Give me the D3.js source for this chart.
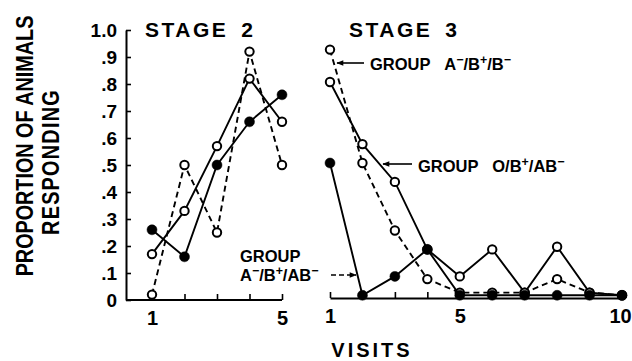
<!DOCTYPE html>
<html><head><meta charset="utf-8">
<script src="https://cdn.jsdelivr.net/npm/d3@7/dist/d3.min.js"></script>
<style>
html,body{margin:0;padding:0;background:#fff;}
svg{display:block;font-family:"Liberation Sans",Arial,Helvetica,sans-serif;}
</style></head><body>
<svg id="chart" width="632" height="361"></svg>
<script>
// ---- data ----
const stage2Visits = [1, 2, 3, 4, 5];
const stage3Visits = [1, 2, 3, 4, 5, 6, 7, 8, 9, 10];
// Group A-/B+/AB- (filled circles, solid line)
const stage2Filled = [0.26, 0.16, 0.50, 0.66, 0.76];
const stage3Filled = [0.50, 0.01, 0.08, 0.18, 0.01, 0.01, 0.01, 0.01, 0.01, 0.01];
// Group O/B+/AB- (open circles, solid line)
const stage2OpenSolid = [0.17, 0.33, 0.57, 0.82, 0.66];
const stage3OpenSolid = [0.80, 0.57, 0.43, 0.18, 0.08, 0.18, 0.02, 0.19, 0.02, 0.01];
// Group A-/B+/B- (open circles, dashed line)
const stage2OpenDashed = [0.02, 0.50, 0.25, 0.92, 0.50];
const stage3OpenDashed = [0.92, 0.50, 0.25, 0.07, 0.02, 0.02, 0.02, 0.07, 0.02, 0.01];
const yTickValues = [0, 0.1, 0.2, 0.3, 0.4, 0.5, 0.6, 0.7, 0.8, 0.9, 1.0];
const yTickLabels = ["0", ".1", ".2", ".3", ".4", ".5", ".6", ".7", ".8", ".9", "1.0"];
const stage2XLabels = [1, 5];
const stage3XLabels = [1, 5, 10];

const svg = d3.select("#chart");
const FONT = '"Liberation Sans",Arial,Helvetica,sans-serif';

const xL = d3.scaleLinear().domain([1, 5]).range([152, 282]);
const yL = d3.scaleLinear().domain([0, 1]).range([300, 30]);
const xR = d3.scaleLinear().domain([1, 10]).range([330, 622]);
const yR = d3.scaleLinear().domain([0, 1]).range([298, 28]);

// defs: arrowhead
svg.append("defs").append("marker")
  .attr("id", "arr").attr("viewBox", "0 0 10 10").attr("refX", 9).attr("refY", 5)
  .attr("markerWidth", 9).attr("markerHeight", 7).attr("markerUnits", "userSpaceOnUse")
  .attr("orient", "auto")
  .append("path").attr("d", "M0,1L10,5L0,9Z").attr("fill", "#000");

// ---- left axes ----
const yAxis = d3.axisLeft(yL).tickValues(yTickValues)
  .tickFormat((d, i) => yTickLabels[i]).tickSizeInner(-5).tickSizeOuter(0).tickPadding(9);
const gy = svg.append("g").attr("transform", "translate(126,0)").call(yAxis);
gy.select(".domain").attr("stroke-width", 2);
gy.selectAll(".tick line").attr("stroke-width", 1.6);
gy.selectAll("text").attr("font-size", 19).attr("font-weight", "bold").attr("font-family", FONT).attr("fill", "#000");

const xAxisL = d3.axisBottom(xL).tickValues(stage2Visits)
  .tickFormat(d => stage2XLabels.includes(d) ? d : "").tickSizeInner(-6).tickSizeOuter(0).tickPadding(11);
const gxl = svg.append("g").attr("transform", `translate(0,${yL(0)})`).call(xAxisL);
gxl.select(".domain").attr("d", `M126,0H${xL(5)}`).attr("stroke-width", 2);
gxl.selectAll(".tick line").attr("stroke-width", 1.6);
gxl.selectAll("text").attr("font-size", 20).attr("font-weight", "bold").attr("font-family", FONT).attr("fill", "#000");

const xAxisR = d3.axisBottom(xR).tickValues(stage3Visits)
  .tickFormat(d => stage3XLabels.includes(d) ? d : "").tickSizeInner(-6).tickSizeOuter(0).tickPadding(11);
const gxr = svg.append("g").attr("transform", `translate(0,${yR(0)})`).call(xAxisR);
gxr.select(".domain").attr("stroke-width", 2);
gxr.selectAll(".tick line").attr("stroke-width", 1.6);
gxr.selectAll("text").attr("font-size", 20).attr("font-weight", "bold").attr("font-family", FONT).attr("fill", "#000")
  .attr("dx", d => d === 10 ? -2 : 0);

// ---- series ----
function drawSeries(xs, vals, x, y, dashed, filled) {
  const pts = xs.map((v, i) => [v, vals[i]]);
  const line = d3.line().x(d => x(d[0])).y(d => y(d[1]));
  svg.append("path").attr("d", line(pts)).attr("fill", "none").attr("stroke", "#000")
    .attr("stroke-width", 1.9).attr("stroke-dasharray", dashed ? "6,4" : null);
  svg.append("g").selectAll("circle").data(pts).join("circle")
    .attr("cx", d => x(d[0])).attr("cy", d => y(d[1]))
    .attr("r", filled ? 5 : 4.2)
    .attr("fill", filled ? "#000" : "#fff").attr("stroke", "#000").attr("stroke-width", filled ? 0.5 : 2);
}
drawSeries(stage2Visits, stage2OpenDashed, xL, yL, true, false);
drawSeries(stage2Visits, stage2OpenSolid, xL, yL, false, false);
drawSeries(stage2Visits, stage2Filled, xL, yL, false, true);
drawSeries(stage3Visits, stage3OpenDashed, xR, yR, true, false);
drawSeries(stage3Visits, stage3OpenSolid, xR, yR, false, false);
drawSeries(stage3Visits, stage3Filled, xR, yR, false, true);

// ---- titles ----
function stageTitle(x, label, num) {
  const t = svg.append("text").attr("x", x).attr("y", 37).attr("font-size", 21)
    .attr("font-weight", "bold").attr("letter-spacing", 2.5).attr("font-family", FONT);
  t.append("tspan").text(label);
  t.append("tspan").attr("dx", 13).text(num);
}
stageTitle(145, "STAGE", "2");
stageTitle(349, "STAGE", "3");

// y-axis title (condensed bold)
svg.append("text").attr("transform", "translate(33,146) rotate(-90) scale(0.86,1)").attr("text-anchor", "middle")
  .attr("font-size", 23).attr("font-weight", "bold").attr("font-family", FONT).text("PROPORTION OF ANIMALS");
svg.append("text").attr("transform", "translate(59,162) rotate(-90) scale(0.86,1)").attr("text-anchor", "middle")
  .attr("font-size", 23).attr("font-weight", "bold").attr("font-family", FONT).attr("letter-spacing", 1.5).text("RESPONDING");

// x title
svg.append("text").attr("x", 372).attr("y", 357).attr("text-anchor", "middle")
  .attr("font-size", 20).attr("font-weight", "bold").attr("letter-spacing", 3).attr("font-family", FONT).text("VISITS");

// ---- group labels ----
// parts: [text, isSuperscript]
function groupLabel(x, y, parts, size) {
  const t = svg.append("text").attr("x", x).attr("y", y).attr("font-size", size)
    .attr("font-family", FONT).attr("font-weight", "bold");
  let raised = false;
  parts.forEach(([s, sup]) => {
    const sp = t.append("tspan").text(s);
    if (sup) { sp.attr("font-size", size * 0.75); if (!raised) { sp.attr("dy", -6); raised = true; } }
    else if (raised) { sp.attr("dy", 6); raised = false; }
  });
  return t;
}
const MINUS = "\u2212";
// Group A-/B+/B- (stage 3 top)
groupLabel(370, 70, [["GROUP", false], ["\u00a0\u00a0\u00a0A", false], [MINUS, true], ["/B", false], ["+", true], ["/B", false], [MINUS, true]], 16.5);
svg.append("line").attr("x1", 364).attr("y1", 63).attr("x2", 337).attr("y2", 63)
  .attr("stroke", "#000").attr("stroke-width", 1.6).attr("marker-end", "url(#arr)");
// Group O/B+/AB-
groupLabel(418, 172, [["GROUP", false], ["\u00a0\u00a0\u00a0O/B", false], ["+", true], ["/AB", false], [MINUS, true]], 16.5);
svg.append("line").attr("x1", 412).attr("y1", 164).attr("x2", 383).attr("y2", 164)
  .attr("stroke", "#000").attr("stroke-width", 1.6).attr("marker-end", "url(#arr)");
// Group A-/B+/AB-
groupLabel(240, 262, [["GROUP", false]], 16.5);
groupLabel(240, 281, [["A", false], [MINUS, true], ["/B", false], ["+", true], ["/AB", false], [MINUS, true]], 16.5);
svg.append("line").attr("x1", 331).attr("y1", 275).attr("x2", 356).attr("y2", 275)
  .attr("stroke", "#000").attr("stroke-width", 1.6).attr("stroke-dasharray", "5,3").attr("marker-end", "url(#arr)");
</script>
</body></html>
